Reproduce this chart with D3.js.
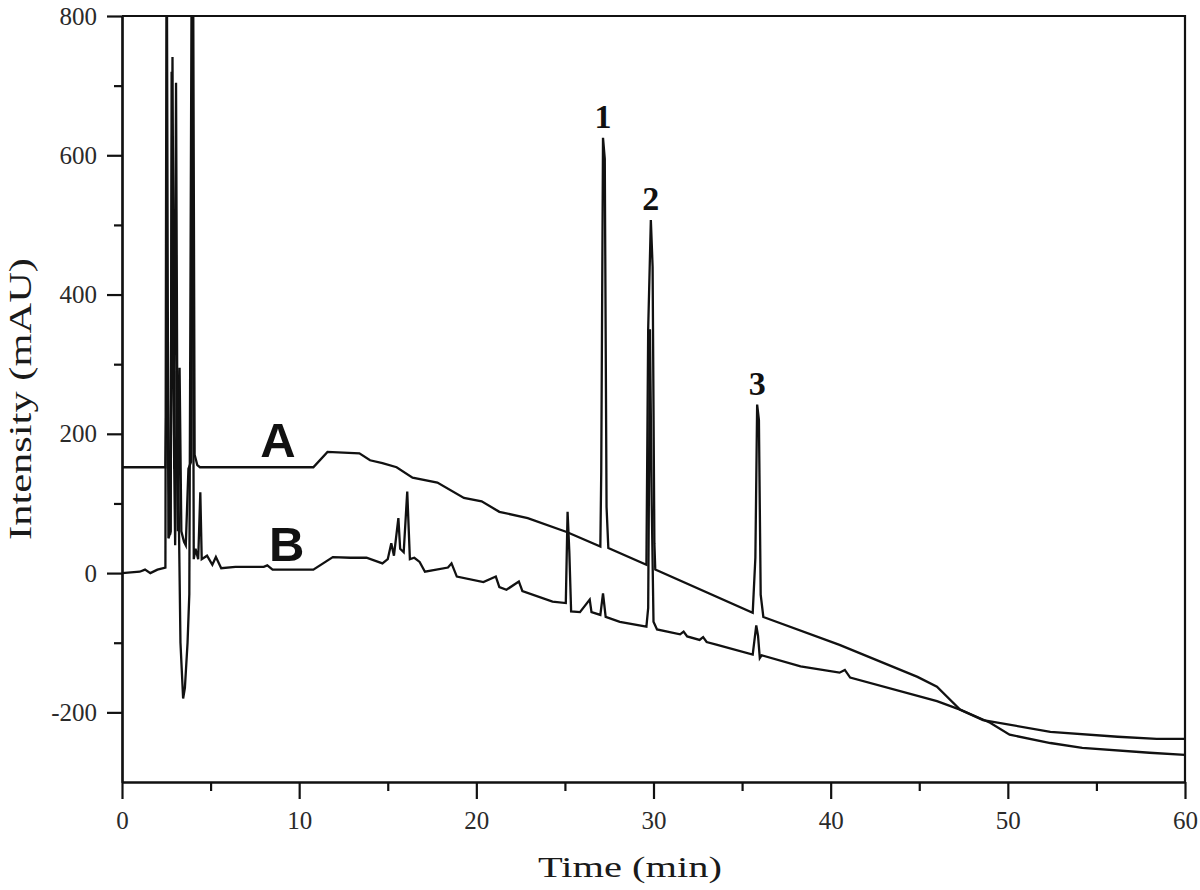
<!DOCTYPE html>
<html>
    <head>
        <title>Chromatogram A and B</title>
        <meta charset="UTF-8">
        <script type="text/javascript" src="https://cdn.jsdelivr.net/npm/d3@7"></script>
        <style type="text/css">
            body { margin: 0; background: #fff; }
            .serif, .tick text { font-family: "Liberation Serif", "Times New Roman", Times, "Nimbus Roman", "Nimbus Roman No9 L", FreeSerif, Tinos, serif; }
            .tick text { font-size: 25px; fill: #2a2a2a; }
        </style>
    </head>
    <body>
        <div id="chart"></div>

        <script type="text/javascript">

            var svgW = 1200;
            var svgH = 890;

            // trace A (upper chromatogram): retention time in min, intensity in mAU
            var timeA = [0, 2.45, 2.5, 2.55, 2.62, 2.72, 2.85, 2.95, 3.05, 3.15,
                3.25, 3.35, 3.5, 3.6, 3.75, 3.9, 4.0, 4.1, 4.25, 4.4,
                10.8, 11.6, 13.4, 14.0, 14.7, 15.5, 16.4, 17.8, 19.3, 20.3,
                21.3, 22.9, 25.1, 27.0, 27.05, 27.15, 27.25, 27.35, 27.45, 29.6,
                29.7, 29.85, 29.95, 30.05, 30.1, 35.6, 35.75, 35.85, 35.95, 36.05,
                36.2, 40.5, 44.9, 46.0, 47.3, 49.0, 50.1, 52.4, 54.2, 58.0, 60];
            var valueA = [152, 152, 240, 375, 150, 55, 741, 150, 704, 60,
                295, 60, 45, 40, 150, 160, 1000, 170, 155, 152,
                152, 174, 172, 162, 158, 152, 137, 130, 108, 103,
                88, 79, 59, 38, 145, 625, 595, 95, 36, 12,
                350, 507, 440, 43, 5, -57, 22, 242, 220, -31,
                -63, -103, -149, -163, -196, -215, -232, -244, -251, -258, -261];

            // trace B (lower chromatogram)
            var timeB = [0, 1.0, 1.3, 1.6, 2.0, 2.45, 2.52, 2.62, 2.75, 2.8,
                2.88, 3.0, 3.1, 3.3, 3.45, 3.55, 3.7, 3.8, 3.95, 4.05,
                4.15, 4.3, 4.42, 4.5, 4.8, 5.1, 5.3, 5.6, 6.4, 8.0,
                8.2, 8.5, 9.5, 10.8, 11.9, 12.9, 13.8, 14.7, 15.0, 15.2,
                15.35, 15.6, 15.7, 15.9, 16.1, 16.25, 16.5, 16.8, 17.1, 18.4,
                18.6, 18.9, 20.4, 21.1, 21.3, 21.7, 22.4, 22.6, 24.3, 25.05,
                25.15, 25.25, 25.35, 25.85, 26.4, 26.5, 27.0, 27.15, 27.3, 28.1,
                29.6, 29.7, 29.8, 29.9, 30.0, 30.2, 31.5, 31.7, 31.9, 32.6,
                32.8, 33.0, 33.6, 35.6, 35.8, 35.9, 36.0, 36.1, 38.3, 40.5,
                40.8, 41.1, 46.0, 47.3, 48.6, 52.4, 56.2, 58.4, 60];
            var valueB = [0, 2, 5, 0, 5, 8, 1000, 50, 60, 720,
                300, 40, 290, -100, -180, -165, -100, -30, 1000, 20,
                35, 20, 116, 20, 25, 12, 23, 7, 9, 9,
                11, 5, 5, 5, 23, 22, 22, 14, 20, 43,
                25, 79, 35, 30, 117, 20, 22, 16, 2, 8,
                14, -5, -13, -5, -20, -24, -12, -26, -41, -43,
                88, 30, -55, -56, -38, -56, -60, -29, -63, -70,
                -77, -50, 350, 100, -70, -81, -88, -84, -91, -96,
                -92, -99, -103, -117, -75, -90, -122, -118, -134, -143,
                -139, -150, -184, -196, -211, -228, -235, -238, -238];

            // numbered peaks of trace A
            var peakNames = ["1", "2", "3"];
            var peakTimes = [27.15, 29.85, 35.85];
            var peakTops = [625, 507, 242];

            // trace names and where they sit
            var traceNames = ["A", "B"];
            var traceNameTimes = [8.8, 9.3];
            var traceNameValues = [167, 18];

            var xTicks = [0, 10, 20, 30, 40, 50, 60];
            var xMinorTicks = [5, 15, 25, 35, 45, 55];
            var yTicks = [-200, 0, 200, 400, 600, 800];
            var yMinorTicks = [-100, 100, 300, 500, 700];

            // plot box (window.top is reserved, so prefixed names)
            var plotL = 122, plotR = 1185, plotT = 16, plotB = 782;

            var x = d3.scaleLinear().domain([0, 60]).range([plotL, plotR]);
            var y = d3.scaleLinear().domain([-300, 800]).range([plotB, plotT]);

            // plain hyphen for negatives, like the original figure
            var plainNum = function (d) { return String(d); };

            var svg = d3.select("#chart").append("svg")
                    .attr("width", svgW)
                    .attr("height", svgH);

            svg.append("clipPath").attr("id", "plotClip")
                    .append("rect")
                    .attr("x", plotL).attr("y", plotT)
                    .attr("width", plotR - plotL).attr("height", plotB - plotT);

            ///////////////////////////////////////////////////////////////
            // traces
            ///////////////////////////////////////////////////////////////
            var line = d3.line()
                    .x(function (d) { return x(d[0]); })
                    .y(function (d) { return y(d[1]); });

            var traces = [d3.zip(timeA, valueA), d3.zip(timeB, valueB)];

            svg.append("g").attr("clip-path", "url(#plotClip)")
                    .selectAll("path")
                    .data(traces)
                    .enter()
                    .append("path")
                    .attr("d", line)
                    .attr("fill", "none")
                    .attr("stroke", "#111")
                    .attr("stroke-width", 2.3)
                    .attr("stroke-linejoin", "miter");

            ///////////////////////////////////////////////////////////////
            // axes and frame
            ///////////////////////////////////////////////////////////////
            svg.append("g")
                    .attr("transform", "translate(0," + plotB + ")")
                    .call(d3.axisBottom(x).tickValues(xTicks).tickFormat(plainNum)
                            .tickSize(17).tickPadding(12).tickSizeOuter(0));
            svg.append("g")
                    .attr("transform", "translate(0," + plotB + ")")
                    .call(d3.axisBottom(x).tickValues(xMinorTicks).tickSize(9).tickFormat("").tickSizeOuter(0));

            svg.append("g")
                    .attr("transform", "translate(" + plotL + ",0)")
                    .call(d3.axisLeft(y).tickValues(yTicks).tickFormat(plainNum)
                            .tickSize(15).tickPadding(10).tickSizeOuter(0));
            svg.append("g")
                    .attr("transform", "translate(" + plotL + ",0)")
                    .call(d3.axisLeft(y).tickValues(yMinorTicks).tickSize(8).tickFormat("").tickSizeOuter(0));

            svg.selectAll(".domain, .tick line")
                    .attr("stroke", "#111")
                    .attr("stroke-width", 2.2);

            // top and right edges of the frame
            svg.append("path")
                    .attr("d", "M" + plotL + "," + plotT + "H" + plotR + "V" + plotB)
                    .attr("fill", "none")
                    .attr("stroke", "#111")
                    .attr("stroke-width", 2.2);

            ///////////////////////////////////////////////////////////////
            // labels
            ///////////////////////////////////////////////////////////////
            svg.append("text")
                    .attr("class", "serif")
                    .attr("x", 630)
                    .attr("y", 877)
                    .attr("text-anchor", "middle")
                    .attr("textLength", 184)
                    .attr("lengthAdjust", "spacingAndGlyphs")
                    .style("font-size", "30px")
                    .style("fill", "#1a1a1a")
                    .text("Time (min)");

            svg.append("text")
                    .attr("class", "serif")
                    .attr("transform", "translate(31,399) rotate(-90)")
                    .attr("text-anchor", "middle")
                    .attr("textLength", 282)
                    .attr("lengthAdjust", "spacingAndGlyphs")
                    .style("font-size", "31px")
                    .style("fill", "#1a1a1a")
                    .text("Intensity (mAU)");

            svg.selectAll(".peakName")
                    .data(peakNames)
                    .enter()
                    .append("text")
                    .attr("class", "peakName serif")
                    .attr("x", function (d, i) { return x(peakTimes[i]); })
                    .attr("y", function (d, i) { return y(peakTops[i]) - 10; })
                    .attr("text-anchor", "middle")
                    .style("font-weight", "bold")
                    .style("font-size", "34px")
                    .style("fill", "#111")
                    .text(function (d) { return d; });

            svg.selectAll(".traceName")
                    .data(traceNames)
                    .enter()
                    .append("text")
                    .attr("class", "traceName")
                    .attr("x", function (d, i) { return x(traceNameTimes[i]); })
                    .attr("y", function (d, i) { return y(traceNameValues[i]); })
                    .attr("text-anchor", "middle")
                    .style("font-family", "'Liberation Sans', Arial, sans-serif")
                    .style("font-weight", "bold")
                    .style("font-size", "49px")
                    .style("fill", "#111")
                    .text(function (d) { return d; });
        </script>

    </body>
</html>
